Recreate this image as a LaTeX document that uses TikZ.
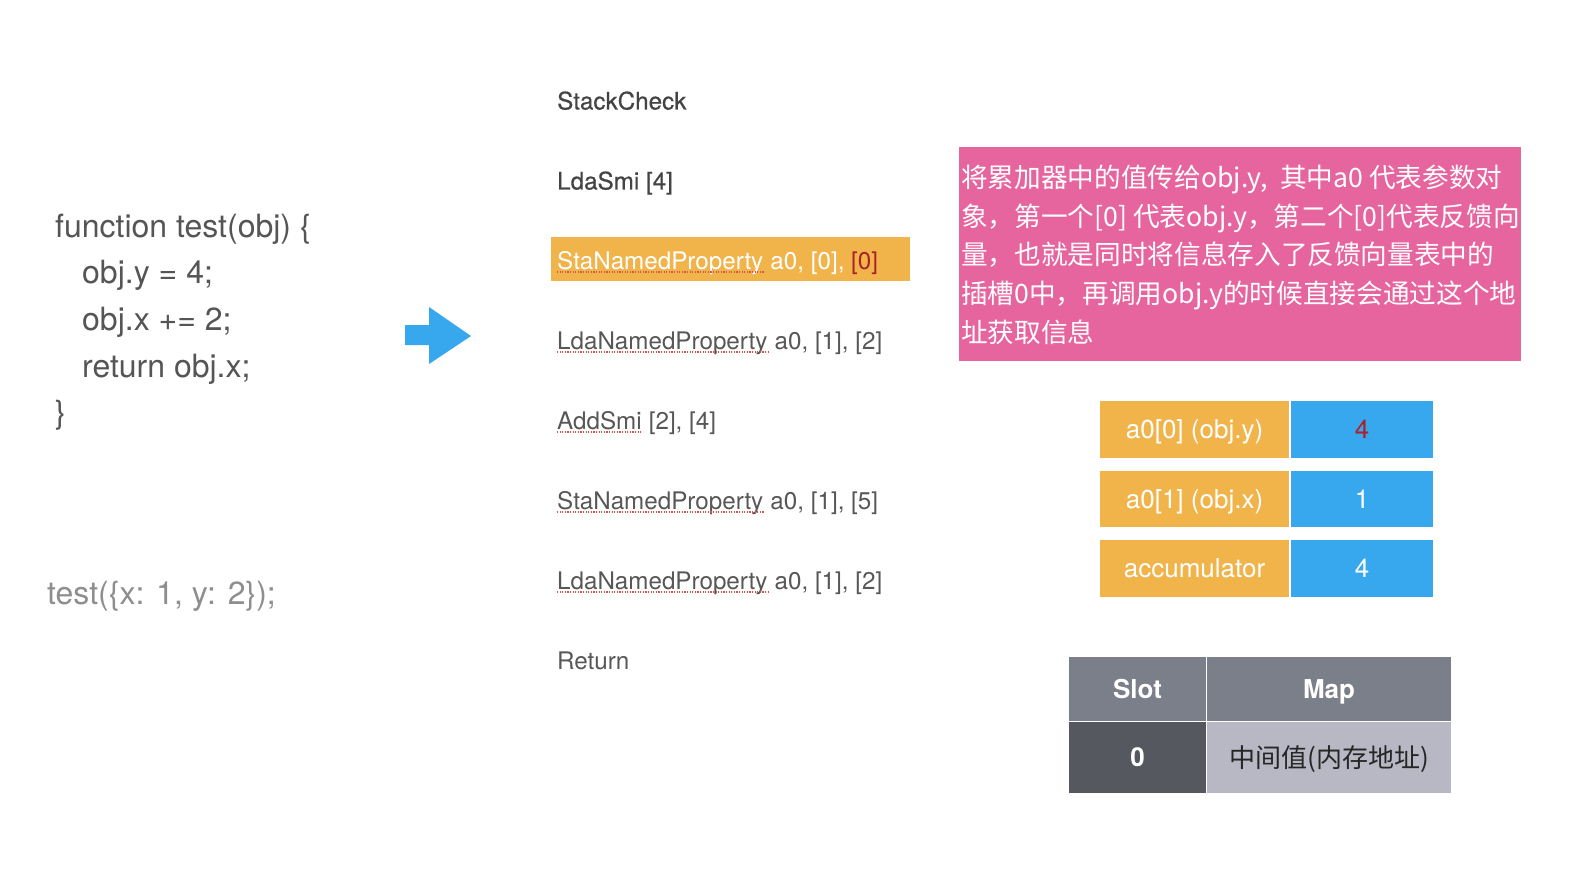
\documentclass[tikz,border=0pt]{standalone}
\usepackage{fontspec}
\setmainfont{TeX Gyre Heros}
\newfontfamily\medfont{TeX Gyre Heros}[FakeBold=0.45]
\newfontfamily\cjk{Noto Sans CJK SC}
\definecolor{codegray}{HTML}{555555}
\definecolor{testgray}{HTML}{8E8E8E}
\definecolor{bcgray}{HTML}{575757}
\definecolor{bcdark}{HTML}{444444}
\definecolor{hlorange}{HTML}{F1B44B}
\definecolor{arrowblue}{HTML}{37A7EE}
\definecolor{pinkbox}{HTML}{E6659F}
\definecolor{darkred}{HTML}{A8242A}
\definecolor{sqred}{HTML}{D9534F}
\definecolor{hdrgray}{HTML}{7B7F8A}
\definecolor{slotdark}{HTML}{55585E}
\definecolor{maplight}{HTML}{B7B8C4}
\begin{document}
\begin{tikzpicture}[x=1pt,y=-1pt,
  code/.style={anchor=base west, inner sep=0, font=\fontsize{32}{36}\selectfont, text=codegray},
  bc/.style={anchor=base west, inner sep=0, font=\fontsize{24.2}{29}\selectfont, text=bcgray},
  sq/.style={draw=sqred, line width=1.2pt, dash pattern=on 1.2pt off 1.4pt},
  pinkline/.style={anchor=base west, inner sep=0, font=\cjk\fontsize{26.65}{32}\selectfont, text=white},
  cell/.style={inner sep=0, text height=18.7pt, text depth=0pt, font=\fontsize{26}{30}\selectfont, text=white},
  box/.style={inner sep=0, anchor=north west}]
\useasboundingbox (0,0) rectangle (1586,882);
\fill[white] (0,0) rectangle (1586,882);

% source code
\node[code] (c1) at (55,237.5) {function test(obj) \{};
\node[code] (c2) at (82,284) {obj.y = 4;};
\node[code] (c3) at (82,330.5) {obj.x += 2;};
\node[code] (c4) at (82,377) {return obj.x;};
\node[code] (c5) at (55,423.5) {\}};
\node[code, text=testgray] (call) at (47,604.5) {test(\{x: 1, y: 2\});};

% arrow
\fill[arrowblue] (405,325) -- (429,325) -- (429,307) -- (471,336) -- (429,364) -- (429,345) -- (405,345) -- cycle;

% bytecode
\node[box, fill=hlorange, minimum width=359pt, minimum height=44pt] (hl) at (551,237) {};
\node[bc, text=bcdark, font=\medfont\fontsize{24.2}{29}\selectfont] (b1) at (557,109.5) {StackCheck};
\node[bc, text=bcdark, font=\medfont\fontsize{24.2}{29}\selectfont] (b2) at (557,189.5) {LdaSmi [4]};
\node[bc, text=white] (b3) at (557,269.5) {StaNamedProperty};
\node[bc, text=white] (b3r) at (b3.base east) {\ a0, [0], {\color{darkred}[0]}};
\node[bc] (b4) at (557,349.5) {LdaNamedProperty};
\node[bc] (b4r) at (b4.base east) {\ a0, [1], [2]};
\node[bc] (b5) at (557,429.5) {AddSmi};
\node[bc] (b5r) at (b5.base east) {\ [2], [4]};
\node[bc] (b6) at (557,509.5) {StaNamedProperty};
\node[bc] (b6r) at (b6.base east) {\ a0, [1], [5]};
\node[bc] (b7) at (557,589.5) {LdaNamedProperty};
\node[bc] (b7r) at (b7.base east) {\ a0, [1], [2]};
\node[bc] (b8) at (557,669) {Return};
\foreach \w in {b3,b4,b5,b6,b7}
  \draw[sq] ([yshift=-2.5pt]\w.base west) -- ([yshift=-2.5pt]\w.base east);

% pink note
\node[box, fill=pinkbox, minimum width=562pt, minimum height=214pt] (pk) at (959,147) {};
\node[pinkline] (p1) at (961,188) {将累加器中的值传给obj.y,\ \ 其中a0 代表参数对};
\node[pinkline] (p2) at (961,226.5) {象，第一个[0] 代表obj.y，第二个[0]代表反馈向};
\node[pinkline] (p3) at (961,265) {量，也就是同时将信息存入了反馈向量表中的};
\node[pinkline] (p4) at (961,303.5) {插槽0中，再调用obj.y的时候直接会通过这个地};
\node[pinkline] (p5) at (961,342) {址获取信息};

% registers
\node[cell, fill=hlorange, minimum width=189pt, minimum height=57pt] (k1) at (1194.5,429.5) {a0[0] (obj.y)};
\node[cell, fill=arrowblue, minimum width=142pt, minimum height=57pt] (v1) at (1362,429.5) {\color{darkred}4};
\node[cell, fill=hlorange, minimum width=189pt, minimum height=56pt] (k2) at (1194.5,499) {a0[1] (obj.x)};
\node[cell, fill=arrowblue, minimum width=142pt, minimum height=56pt] (v2) at (1362,499) {1};
\node[cell, fill=hlorange, minimum width=189pt, minimum height=57pt] (k3) at (1194.5,568.5) {accumulator};
\node[cell, fill=arrowblue, minimum width=142pt, minimum height=57pt] (v3) at (1362,568.5) {4};

% feedback vector table
\node[cell, fill=hdrgray, minimum width=137pt, minimum height=64pt, font=\bfseries\fontsize{26}{30}\selectfont] (hs) at (1137.5,689) {Slot};
\node[cell, fill=hdrgray, minimum width=244pt, minimum height=64pt, font=\bfseries\fontsize{26}{30}\selectfont] (hm) at (1329,689) {Map};
\node[cell, fill=slotdark, minimum width=137pt, minimum height=71pt, font=\bfseries\fontsize{26}{30}\selectfont] (s0) at (1137.5,757.5) {0};
\node[cell, fill=maplight, minimum width=244pt, minimum height=71pt, text=black!85, text height=19.8pt, font=\cjk\fontsize{26}{30}\selectfont] (m0) at (1329,757.5) {中间值(内存地址)};
\end{tikzpicture}
\end{document}
